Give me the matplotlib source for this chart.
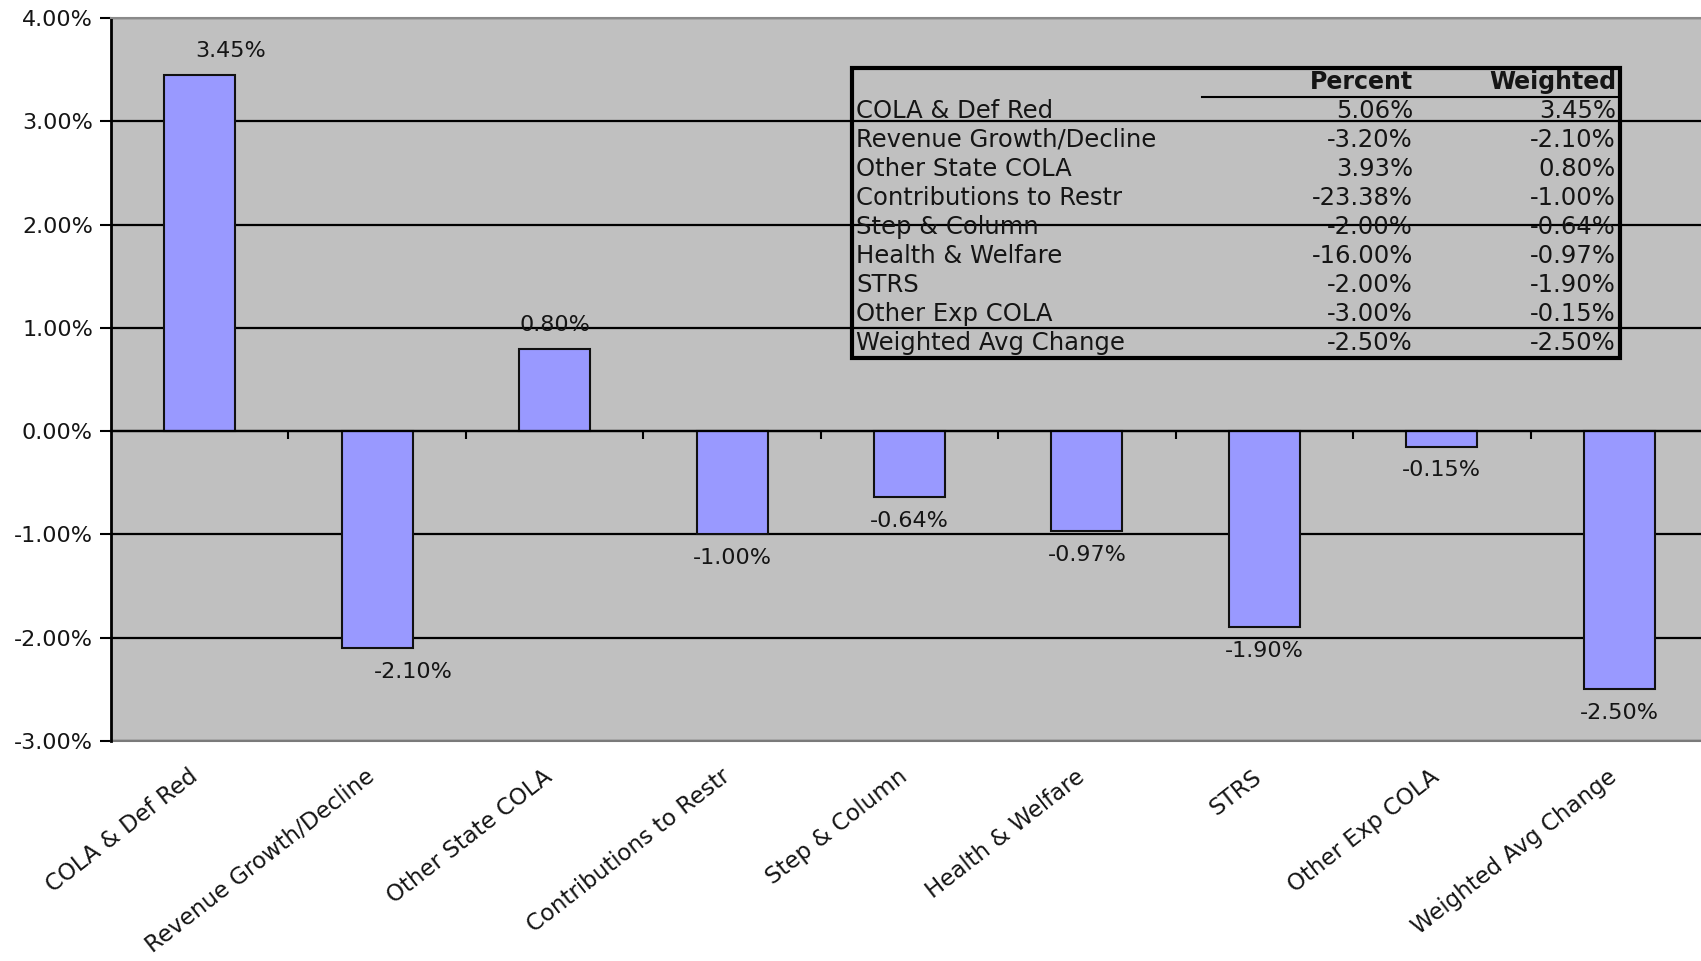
import numpy as np
import matplotlib
matplotlib.use("Agg")
import matplotlib.pyplot as plt
import matplotlib.transforms as mtransforms
from matplotlib.ticker import FuncFormatter, FixedLocator

categories = ["COLA & Def Red", "Revenue Growth/Decline", "Other State COLA",
              "Contributions to Restr", "Step & Column", "Health & Welfare",
              "STRS", "Other Exp COLA", "Weighted Avg Change"]
weighted = [3.45, -2.10, 0.80, -1.00, -0.64, -0.97, -1.90, -0.15, -2.50]
percent = [5.06, -3.20, 3.93, -23.38, -2.00, -16.00, -2.00, -3.00, -2.50]
table_header = ["Percent", "Weighted"]
y_ticks = [-3, -2, -1, 0, 1, 2, 3, 4]

W, H = 1701, 961
FS_TICK = 16
FS_VAL = 16
FS_CAT = 16.5
FS_TAB = 17.5
TXT = '#151515'
plt.rcParams['font.family'] = ['DejaVu Sans']

fig = plt.figure(figsize=(W / 100, H / 100), dpi=100)
fig.patch.set_facecolor('white')

def px(x, y):
    return x / W, 1 - y / H

left, right, top, bottom = 111, 1708, 18, 741
ax = fig.add_axes([left / W, 1 - bottom / H, (right - left) / W, (bottom - top) / H])
ax.set_facecolor('#C0C0C0')

x = np.arange(len(categories))
ax.bar(x, weighted, width=0.4, color='#9999FF', edgecolor='#111111', linewidth=1.5, zorder=3)

ax.set_xlim(-0.5, len(categories) - 0.5)
ax.set_ylim(-3, 4)
ax.yaxis.set_major_locator(FixedLocator(y_ticks))
ax.yaxis.set_major_formatter(FuncFormatter(lambda v, p: f"{v:.2f}%"))
ax.yaxis.grid(True, color='black', linewidth=1.6, zorder=1)
ax.set_axisbelow(True)
ax.tick_params(axis='y', direction='out', length=8, width=1.5, pad=5, labelsize=FS_TICK, colors='black')
for t in ax.get_yticklabels():
    t.set_color(TXT)

# x axis at zero with ticks at category boundaries
ax.spines['bottom'].set_position(('data', 0))
ax.spines['bottom'].set_linewidth(1.6)
ax.spines['bottom'].set_zorder(4)
ax.set_xticks(np.arange(0.5, len(categories) - 0.5))
ax.set_xticklabels([])
ax.tick_params(axis='x', direction='out', length=6, width=1.5)
ax.spines['left'].set_linewidth(2)
for s in ['top', 'right']:
    ax.spines[s].set_color('#8a8a8a')
    ax.spines[s].set_linewidth(1.5)
ax.axhline(-3, color='#7a7a7a', linewidth=1.5, clip_on=False, zorder=2)

# value labels
label_dx = [22, 26, 0, 0, 0, 0, 0, 0, 0]
for i, v in enumerate(weighted):
    dy = 17 if v >= 0 else -17
    ax.annotate(f"{v:.2f}%", (x[i], v), xytext=(label_dx[i], dy), textcoords='offset points',
                ha='center', va='center', fontsize=FS_VAL, color=TXT, zorder=5)

# category labels
blend = mtransforms.blended_transform_factory(ax.transData, ax.transAxes)
off = mtransforms.ScaledTranslation(-12 / 100, -24 / 100, fig.dpi_scale_trans)
for i, c in enumerate(categories):
    ax.text(x[i], 0, c, transform=blend + off, rotation=38, rotation_mode='anchor',
            ha='right', va='top', fontsize=FS_CAT, color=TXT)

# data table overlay
bx0, by0, bx1, by1 = 852, 68, 1620, 358
fig.add_artist(plt.Rectangle(px(bx0, by1), (bx1 - bx0) / W, (by1 - by0) / H,
                             transform=fig.transFigure, fill=False, edgecolor='black',
                             linewidth=3, zorder=6))
fig.add_artist(plt.Line2D([1202 / W, bx1 / W], [1 - 96.5 / H, 1 - 96.5 / H],
                          transform=fig.transFigure, color='black', linewidth=1.5, zorder=6))
col_p, col_w, col_l = 1413, 1616, 856
hy = 82
fig.text(*px(col_p, hy), table_header[0], ha='right', va='center', fontsize=FS_TAB - 0.5,
         fontweight='bold', color=TXT)
fig.text(*px(col_w, hy), table_header[1], ha='right', va='center', fontsize=FS_TAB - 0.5,
         fontweight='bold', color=TXT)
row_y0, row_dy = 110.5, 29.1
for i, c in enumerate(categories):
    yy = row_y0 + i * row_dy
    fig.text(*px(col_l, yy), c, ha='left', va='center', fontsize=FS_TAB, color=TXT)
    fig.text(*px(col_p, yy), f"{percent[i]:.2f}%", ha='right', va='center', fontsize=FS_TAB, color=TXT)
    fig.text(*px(col_w, yy), f"{weighted[i]:.2f}%", ha='right', va='center', fontsize=FS_TAB, color=TXT)

fig.savefig("out.png", dpi=100)
